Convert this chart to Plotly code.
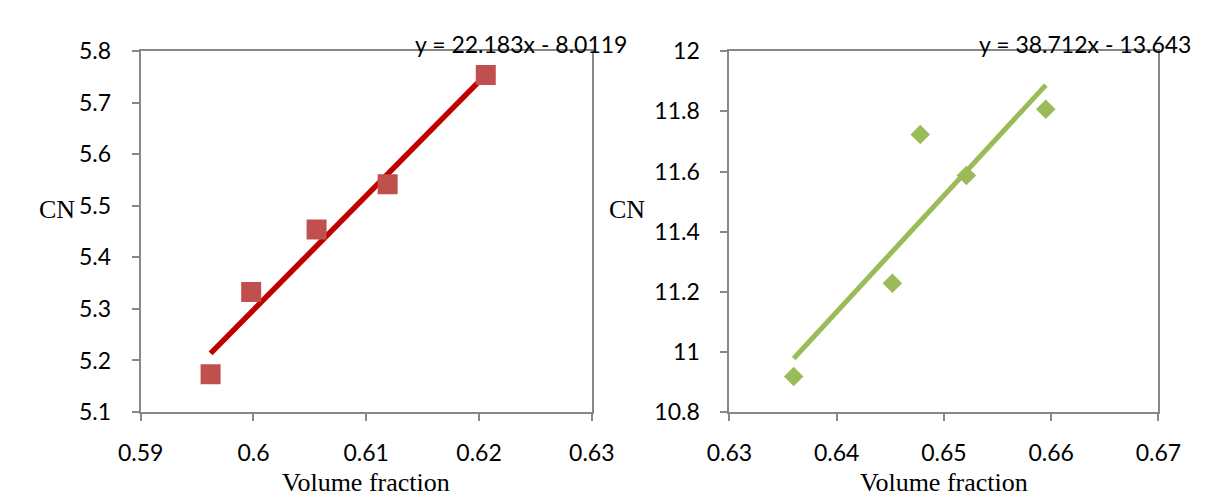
import plotly.graph_objects as go

# ---- data ----
left_x = [0.5962, 0.5998, 0.6056, 0.6119, 0.6206]
left_y = [5.173, 5.333, 5.454, 5.542, 5.754]
left_slope, left_intercept = 22.183, -8.0119
left_eq = "y = 22.183x - 8.0119"

right_x = [0.6360, 0.6452, 0.6478, 0.6521, 0.6595]
right_y = [10.918, 11.228, 11.723, 11.587, 11.807]
right_slope, right_intercept = 38.712, -13.643
right_eq = "y = 38.712x - 13.643"

left_xticks = [0.59, 0.60, 0.61, 0.62, 0.63]
left_xtext = ["0.59", "0.6", "0.61", "0.62", "0.63"]
left_yticks = [5.1, 5.2, 5.3, 5.4, 5.5, 5.6, 5.7, 5.8]
left_ytext = ["5.1", "5.2", "5.3", "5.4", "5.5", "5.6", "5.7", "5.8"]
right_xticks = [0.63, 0.64, 0.65, 0.66, 0.67]
right_xtext = ["0.63", "0.64", "0.65", "0.66", "0.67"]
right_yticks = [10.8, 11.0, 11.2, 11.4, 11.6, 11.8, 12.0]
right_ytext = ["10.8", "11", "11.2", "11.4", "11.6", "11.8", "12"]

x_title = "Volume fraction"
y_title = "CN"

W, H = 1208, 501

def fit_line(xs, m, b):
    x0, x1 = min(xs), max(xs)
    return [x0, x1], [m * x0 + b, m * x1 + b]

fig = go.Figure()

lx, ly = fit_line(left_x, left_slope, left_intercept)
fig.add_trace(go.Scatter(x=lx, y=ly, mode="lines", line=dict(color="#C00000", width=5.5),
                         xaxis="x", yaxis="y", showlegend=False, hoverinfo="skip"))
fig.add_trace(go.Scatter(x=left_x, y=left_y, mode="markers",
                         marker=dict(symbol="square", size=20, color="#C0504D"),
                         xaxis="x", yaxis="y", showlegend=False))

rx, ry = fit_line(right_x, right_slope, right_intercept)
fig.add_trace(go.Scatter(x=rx, y=ry, mode="lines", line=dict(color="#9BBB59", width=5),
                         xaxis="x2", yaxis="y2", showlegend=False, hoverinfo="skip"))
fig.add_trace(go.Scatter(x=right_x, y=right_y, mode="markers",
                         marker=dict(symbol="diamond", size=15, color="#9BBB59"),
                         xaxis="x2", yaxis="y2", showlegend=False))

tick_font = dict(family="Lato, Open Sans, sans-serif", size=23, color="black")
ax_common = dict(showgrid=False, zeroline=False, showline=True, linecolor="#878787",
                 linewidth=2, mirror=True, ticks="outside", ticklen=7, tickwidth=2,
                 tickcolor="#878787", tickfont=tick_font, tickmode="array")

ydom = [1 - 412 / H, 1 - 30 / H]
fig.update_layout(
    width=W, height=H,
    margin=dict(l=0, r=0, t=0, b=0),
    paper_bgcolor="white", plot_bgcolor="white",
    xaxis=dict(domain=[114 / W, 583 / W], range=[0.59, 0.63], tickvals=left_xticks,
               ticktext=left_xtext, anchor="y", ticklabelstandoff=12, **ax_common),
    yaxis=dict(domain=ydom, range=[5.1, 5.8], tickvals=left_yticks, ticktext=left_ytext,
               anchor="x", ticklabelstandoff=16, **ax_common),
    xaxis2=dict(domain=[726 / W, 1172 / W], range=[0.63, 0.67], tickvals=right_xticks,
                ticktext=right_xtext, anchor="y2", ticklabelstandoff=12, **ax_common),
    yaxis2=dict(domain=ydom, range=[10.8, 12.0], tickvals=right_yticks, ticktext=right_ytext,
                anchor="x2", ticklabelstandoff=16, **ax_common),
)

serif = dict(family="Liberation Serif, Times New Roman, serif", size=26, color="black")
eq_font = dict(family="Lato, Open Sans, sans-serif", size=23, color="black")
ann = [
    dict(text=left_eq, x=509 / W, y=1 - 22 / H, xanchor="center", yanchor="middle", font=eq_font),
    dict(text=right_eq, x=1.0, y=1 - 22 / H, xanchor="right", yanchor="middle", font=eq_font),
    dict(text=y_title, x=27 / W, y=1 - 198 / H, xanchor="center", yanchor="middle", font=serif),
    dict(text=y_title, x=620 / W, y=1 - 198 / H, xanchor="center", yanchor="middle", font=serif),
    dict(text=x_title, x=348 / W, y=1 - 487 / H, xanchor="center", yanchor="middle", font=serif),
    dict(text=x_title, x=949 / W, y=1 - 487 / H, xanchor="center", yanchor="middle", font=serif),
]
for a in ann:
    fig.add_annotation(xref="paper", yref="paper", showarrow=False, **a)

fig.write_html("out.html")
